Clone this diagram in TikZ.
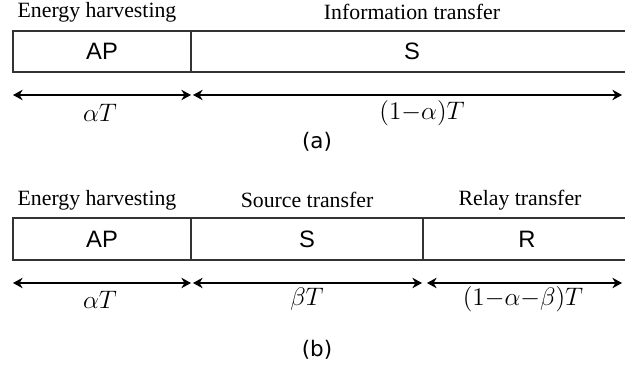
\documentclass[tikz,border=0pt]{standalone}
\usepackage{fontspec}
\setmainfont{Liberation Serif}
\newfontfamily\segfont{Liberation Sans}
\newfontfamily\capfont{DejaVu Sans}
\usetikzlibrary{arrows.meta}
\tikzset{
  span/.style={{Stealth[length=5.5pt,width=6pt]}-{Stealth[length=5.5pt,width=6pt]}, line width=0.6pt},
  bar/.style={line width=0.8pt, draw=black!80},
  seg/.style={font=\segfont\fontsize{13.5}{16}\selectfont},
  subcap/.style={font=\capfont\fontsize{12.2}{15}\selectfont},
  mlabel/.style={font=\fontsize{13.8}{17}\selectfont},
}
\begin{document}
\begin{tikzpicture}[font=\fontsize{12.4}{15}\selectfont]
\useasboundingbox (0,0) rectangle (12.5,7.42);
% (a) two slots
\draw[bar] (0.26,5.98) rectangle (12.66,6.80);
\draw[bar] (3.82,5.98)--(3.82,6.80);
\node (eh1) at (1.94,7.18) {Energy harvesting};
\node (it1) at (8.24,7.18) {Information transfer};
\node[seg] (ap1) at (2.04,6.40) {AP};
\node[seg] (s1) at (8.24,6.40) {S};
\coordinate (l1) at (0.26,5.52);
\coordinate (m1) at (3.82,5.52);
\coordinate (n1) at (3.86,5.52);
\coordinate (r1) at (12.44,5.52);
\draw[span] (l1)--(m1);
\draw[span] (n1)--(r1);
\node[mlabel] (t1) at (2.0,5.16) {$\alpha T$};
\node[mlabel] (t2) at (8.44,5.16) {$(1{-}\alpha)T$};
\node[subcap] (capa) at (6.34,4.58) {(a)};
% (b) three slots
\draw[bar] (0.26,2.22) rectangle (12.66,3.06);
\draw[bar] (3.82,2.22)--(3.82,3.06);
\draw[bar] (8.46,2.22)--(8.46,3.06);
\node (eh2) at (1.94,3.42) {Energy harvesting};
\node (st2) at (6.14,3.42) {Source transfer};
\node (rt2) at (10.40,3.42) {Relay transfer};
\node[seg] (ap2) at (2.04,2.64) {AP};
\node[seg] (s2) at (6.14,2.64) {S};
\node[seg] (r2) at (10.54,2.64) {R};
\coordinate (l2) at (0.26,1.76);
\coordinate (m2) at (3.82,1.76);
\coordinate (n2) at (3.86,1.76);
\coordinate (o2) at (8.44,1.76);
\coordinate (p2) at (8.54,1.76);
\coordinate (r2e) at (12.44,1.76);
\draw[span] (l2)--(m2);
\draw[span] (n2)--(o2);
\draw[span] (p2)--(r2e);
\node[mlabel] (u1) at (2.0,1.43) {$\alpha T$};
\node[mlabel] (u2) at (6.14,1.43) {$\beta T$};
\node[mlabel] (u3) at (10.46,1.43) {$(1{-}\alpha{-}\beta)T$};
\node[subcap] (capb) at (6.34,0.42) {(b)};
\end{tikzpicture}
\end{document}
